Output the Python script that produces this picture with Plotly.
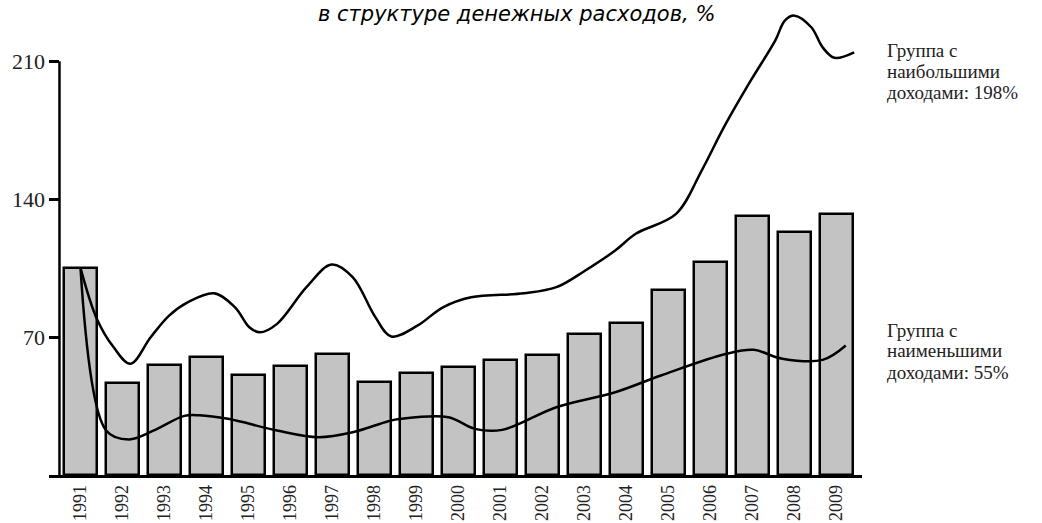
import plotly.graph_objects as go

years = list(range(1991, 2010))
bar_values = [105.1, 46.9, 55.7, 60.1, 51.0, 55.4, 61.5, 47.3, 52.0, 54.7,
              58.4, 61.1, 71.6, 77.0, 94.0, 108.0, 131.2, 123.4, 132.5]

# Group with highest incomes (curve points)
high_x = [1991.0, 1991.39, 1991.79, 1992.19, 1992.67, 1993.11, 1993.56, 1994.18, 1994.68,
          1995.02, 1995.27, 1995.68, 1996.38, 1996.98, 1997.48, 1998.02, 1998.40,
          1999.03, 1999.63, 2000.30, 2001.56, 2002.33, 2003.02, 2003.73, 2004.22,
          2005.18, 2005.79, 2006.32, 2006.96, 2007.54, 2007.77, 2008.0, 2008.40,
          2008.67, 2008.95, 2009.42]
high_y = [105.1, 79.2, 64.8, 56.4, 69.9, 80.9, 87.7, 92.2, 85.1,
          75.0, 72.4, 76.7, 95.3, 106.8, 100.4, 80.1, 70.3,
          75.9, 85.1, 90.2, 92.2, 95.3, 103.8, 113.9, 122.4,
          132.5, 154.5, 176.5, 200.2, 220.4, 230.6, 233.1, 227.2,
          217.0, 211.7, 214.5]

# Group with lowest incomes
low_x = [1991.0, 1991.61, 1992.15, 1992.75, 1993.47, 1993.83, 1994.51, 1995.68, 1996.66,
         1997.48, 1998.33, 1998.63, 1999.76, 2000.39, 2001.04, 2002.33, 2003.73,
         2004.82, 2006.38, 2007.02, 2007.71, 2008.67, 2009.22]
low_y = [105.1, 22.6, 18.0, 22.6, 30.0, 30.3, 28.5, 22.6, 19.2,
         21.7, 27.3, 28.5, 29.3, 23.4, 22.9, 34.4, 42.0,
         50.5, 61.5, 63.5, 59.0, 58.4, 65.7]

y_ticks = [70, 140, 210]
title_text = "в структуре денежных расходов, %"
high_label = ["Группа с", "наибольшими", "доходами: 198%"]
low_label = ["Группа с", "наименьшими", "доходами: 55%"]

fig = go.Figure()
fig.add_trace(go.Bar(x=years, y=bar_values, width=0.78,
                     marker=dict(color="#c3c3c3", line=dict(color="black", width=2.5)),
                     showlegend=False))
fig.add_trace(go.Scatter(x=high_x, y=high_y, mode="lines",
                         line=dict(color="black", width=2.5, shape="spline", smoothing=1.0),
                         showlegend=False))
fig.add_trace(go.Scatter(x=low_x, y=low_y, mode="lines",
                         line=dict(color="black", width=2.5, shape="spline", smoothing=1.0),
                         showlegend=False))

ypos = 0.0129
fig.add_shape(type="line", xref="paper", yref="y", x0=ypos, x1=ypos, y0=0, y1=210,
              line=dict(color="black", width=2.5))

annotations = [dict(text="<i>" + title_text + "</i>", x=0.575, y=1.0, xref="paper", yref="paper",
                    xanchor="center", yanchor="top", yshift=5, showarrow=False,
                    font=dict(family="DejaVu Sans", size=21, color="black"))]
for i, t in enumerate(high_label):
    annotations.append(dict(text=t, x=1.028, y=[0.904, 0.859, 0.814][i], xref="paper", yref="paper",
                            xanchor="left", yanchor="middle", showarrow=False,
                            font=dict(family="Liberation Serif", size=19, color="#222")))
for i, t in enumerate(low_label):
    annotations.append(dict(text=t, x=1.028, y=[0.308, 0.264, 0.219][i], xref="paper", yref="paper",
                            xanchor="left", yanchor="middle", showarrow=False,
                            font=dict(family="Liberation Serif", size=19, color="#222")))

fig.update_layout(
    annotations=annotations,
    width=1042, height=523,
    margin=dict(l=49, r=180, t=5, b=48, autoexpand=False),
    plot_bgcolor="white", paper_bgcolor="white",
    bargap=0,
    xaxis=dict(range=[1990.25, 2009.607], tickmode="array", tickvals=years,
               ticktext=[str(y) for y in years], tickangle=-90, automargin=False,
               showline=True, linecolor="black", linewidth=2.5, showgrid=False,
               zeroline=False, ticks="",
               tickfont=dict(family="Liberation Serif", size=18, color="#222")),
    yaxis=dict(range=[0, 238.5], tickmode="array", tickvals=y_ticks, automargin=False,
               anchor="free", position=ypos, showline=False, showgrid=False,
               zeroline=False, ticks="outside", ticklen=10, tickwidth=2.5, tickcolor="black",
               tickfont=dict(family="Liberation Serif", size=22, color="#222")),
)

fig.write_html("out.html", config={"displayModeBar": False},
               post_script="document.body.style.margin='0';")
